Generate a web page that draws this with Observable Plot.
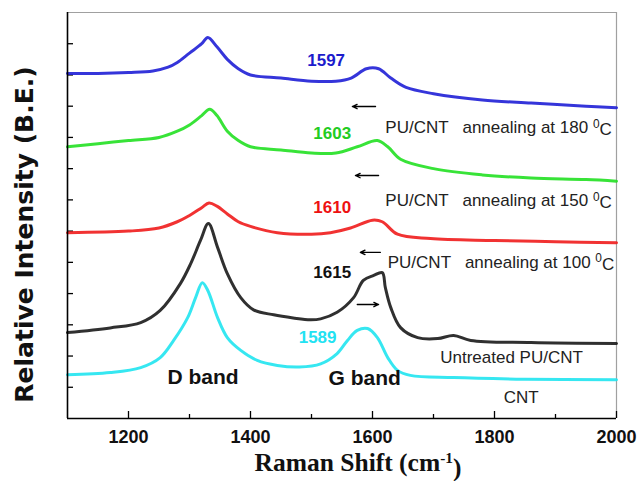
<!DOCTYPE html>
<html><head><meta charset="utf-8">
<script src="https://cdn.jsdelivr.net/npm/d3@7"></script>
<script src="https://cdn.jsdelivr.net/npm/@observablehq/plot@0.6"></script>
<style>
body{margin:0;background:#fff}
text{white-space:pre}
</style></head><body><div id="chart"></div>
<script>
// Raman spectra: [Raman shift (cm-1), relative intensity (offset, arbitrary units)]
const spec180 = [[1100,110.5],[1150,110.5],[1200,110.8],[1240,111.3],[1265,112.5],[1280,114],[1300,117],[1320,120],[1330,122],[1345,119],[1362,115],[1380,112],[1400,110],[1450,109],[1500,108],[1540,108],[1565,109],[1590,112],[1610,112],[1630,109],[1655,106],[1700,104],[1780,102],[1860,101],[1950,100],[2000,99.5]];
const spec150 = [[1100,87],[1150,88],[1200,89],[1250,90],[1280,92],[1300,94],[1320,97],[1333,99],[1345,97],[1362,92],[1380,89],[1400,87],[1450,86],[1500,85],[1540,85],[1575,87],[1608,89],[1625,87],[1646,83],[1700,80],[1780,78],[1860,77],[1950,76.5],[2000,76]];
const spec100 = [[1100,59.5],[1200,60],[1250,61],[1280,63],[1300,65],[1320,67.5],[1332,69],[1345,68],[1362,65.5],[1380,63],[1400,61.5],[1444,59.5],[1500,59],[1531,59.5],[1564,61],[1600,63.5],[1616,63],[1641,59],[1695,57.6],[1800,57],[1900,56.6],[2000,56.3]];
const specUntreated = [[1100,27.5],[1170,29],[1220,30.7],[1252,34.6],[1285,43.2],[1302,49.6],[1318,57],[1331,62.4],[1346,54.8],[1362,46.4],[1384,38.7],[1405,34.8],[1438,33.2],[1470,32.2],[1498,31.6],[1515,31.9],[1542,34],[1569,38.7],[1585,44.2],[1602,45.8],[1616,46.7],[1621,42],[1630,35.5],[1646,29.1],[1674,25.9],[1707,25.6],[1733,26.6],[1761,25],[1860,24.3],[2000,24]];
const specCNT = [[1100,14],[1170,14.7],[1220,16.3],[1252,19.5],[1274,25],[1297,32.3],[1310,38.7],[1321,43.5],[1330,41],[1346,32.3],[1362,25.9],[1384,21.8],[1411,18.6],[1444,17],[1480,16.5],[1515,17.5],[1542,20.8],[1559,25],[1575,28.2],[1592,28.8],[1608,25.9],[1625,19.5],[1641,15.4],[1662,13.8],[1733,13.1],[1850,12.6],[2000,12.4]];

const seriesNames = ["180", "150", "100", "untreated", "CNT"];
const seriesData = [spec180, spec150, spec100, specUntreated, specCNT];
const seriesColors = ["#1f1fd6", "#22e022", "#f01c1c", "#1a1a1a", "#20e4f0"];
const labelColors = ["#1c1ccc", "#22cc22", "#ee1111", "#111111", "#22e2f2"];

// G-band peak position labels: [x, y, text]
const peakLabels = [[1493,114.6,"1597"],[1503,91.3,"1603"],[1503,67.6,"1610"],[1503,46.7,"1615"],[1479,25.9,"1589"]];
// sample labels: [x, y, text]
const sampleLabels = [[1621,93.2,"PU/CNT   annealing at 180 ^0C"],[1621,69.8,"PU/CNT   annealing at 150 ^0C"],[1625,50,"PU/CNT   annealing at 100 ^0C"],[1711,19.5,"Untreated PU/CNT"],[1815,6.7,"CNT"]];
const bandLabels = [[1264,13.1,"D band"],[1528,12.8,"G band"]];
// shift arrows: [x1, x2, y]
const arrows = [[1605,1567,99.9],[1610,1572,77.8],[1613,1580,53.2],[1575,1610,36.5]];

const xMajor = [1200, 1400, 1600, 1800, 2000];
const xMinor = [1300, 1500, 1700, 1900];
const yTicks = [10, 20, 30, 40, 50, 60, 70, 80, 90, 100, 110, 120];

const lines = seriesData.flatMap((d, i) => d.map(([x, y]) => ({x, y, s: seriesNames[i]})));

const chart = Plot.plot({
  width: 637, height: 481,
  marginLeft: 67, marginRight: 21, marginTop: 12, marginBottom: 63,
  x: {domain: [1100, 2000], axis: null},
  y: {domain: [0, 130], axis: null},
  color: {domain: seriesNames, range: seriesColors},
  style: {fontFamily: "'Liberation Sans', Arial, sans-serif", background: "white"},
  marks: [
    Plot.ruleY([130], {stroke: "#a0a0a0", strokeWidth: 1.2}),
    Plot.ruleX([2000], {stroke: "#a0a0a0", strokeWidth: 1.2}),
    Plot.gridX(xMajor, {stroke: "#000", strokeOpacity: 1, strokeWidth: 1.3, insetTop: 399}),
    Plot.gridX(xMinor, {stroke: "#000", strokeOpacity: 1, strokeWidth: 1.3, insetTop: 402}),
    Plot.gridY(yTicks, {stroke: "#000", strokeOpacity: 1, strokeWidth: 1.3, insetRight: 543}),
    Plot.line(lines, {x: "x", y: "y", z: "s", stroke: "s", strokeWidth: 3, curve: "catmull-rom", strokeOpacity: 0.9}),
    Plot.ruleX([1100], {stroke: "#000", strokeWidth: 1.6}),
    Plot.ruleY([0], {stroke: "#000", strokeWidth: 1.6}),
    Plot.axisX(xMajor, {tickSize: 0, tickPadding: 12, tickFormat: d => String(d), fontSize: 18, fontWeight: "bold", fill: "#111", label: null}),
    Plot.text(peakLabels, {x: d => d[0], y: d => d[1], text: d => d[2], fill: (d, i) => labelColors[i], textAnchor: "start", lineAnchor: "middle", fontSize: 17, fontWeight: "bold"}),
    Plot.text(sampleLabels, {x: d => d[0], y: d => d[1], text: d => d[2], fill: "#222", textAnchor: "start", lineAnchor: "middle", fontSize: 17}),
    Plot.text(bandLabels, {x: d => d[0], y: d => d[1], text: d => d[2], fill: "#111", textAnchor: "start", lineAnchor: "middle", fontSize: 21, fontWeight: "bold"}),
    Plot.arrow(arrows, {x1: d => d[0], x2: d => d[1], y1: d => d[2], y2: d => d[2], stroke: "#000", strokeWidth: 1.3, headLength: 6, headAngle: 50})
  ]
});

const svg = d3.select(chart);
// superscript degree marks
svg.selectAll("text").each(function() {
  const t = this.textContent;
  if (t.includes("^")) {
    const [a, b] = t.split("^");
    const el = d3.select(this);
    el.text(null);
    el.append("tspan").text(a);
    el.append("tspan").attr("dy", "-0.45em").attr("font-size", "0.7em").text(b[0]);
    el.append("tspan").attr("dy", "0.45em").text(b.slice(1));
  }
});
// axis titles
svg.append("text")
  .attr("transform", "translate(33,234.5) rotate(-90)")
  .attr("text-anchor", "middle")
  .attr("font-family", "'DejaVu Sans', sans-serif")
  .attr("font-weight", "bold")
  .attr("font-size", 25)
  .attr("fill", "#111")
  .text("Relative Intensity (B.E.)");
const xt = svg.append("text")
  .attr("transform", "translate(358,471)")
  .attr("text-anchor", "middle")
  .attr("font-family", "'Liberation Serif', 'Times New Roman', serif")
  .attr("font-weight", "bold")
  .attr("font-size", 25.5)
  .attr("fill", "#111");
xt.append("tspan").text("Raman Shift (cm");
xt.append("tspan").attr("dy", "-0.5em").attr("font-size", "0.6em").text("-1");
xt.append("tspan").attr("dy", "0.5em").text(")");

document.getElementById("chart").appendChild(chart);
</script>
</body></html>
